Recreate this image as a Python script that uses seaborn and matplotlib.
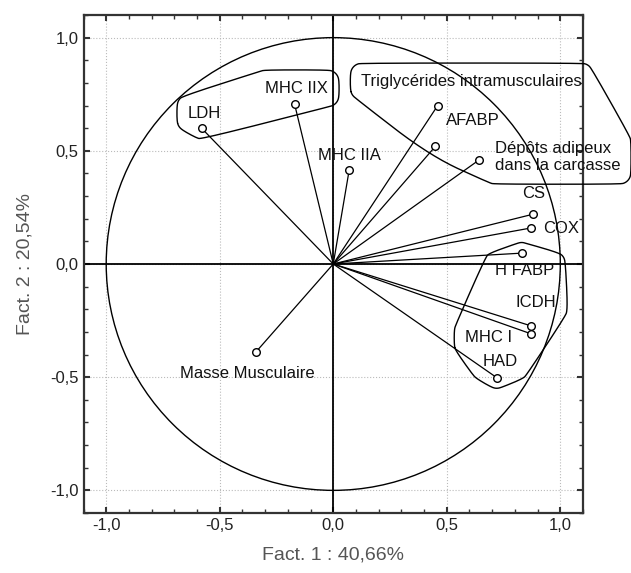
import numpy as np
import pandas as pd
import matplotlib
matplotlib.use("Agg")
import matplotlib.pyplot as plt
import seaborn as sns
from matplotlib.patches import Circle
from matplotlib.ticker import FixedLocator, MultipleLocator

# ---------------- data ----------------
variables = ["LDH", "MHC IIX", "MHC IIA", "Triglycérides intramusculaires", "AFABP",
             "Dépôts adipeux\ndans la carcasse", "CS", "COX", "H FABP", "ICDH",
             "MHC I", "HAD", "Masse Musculaire"]
fact1 = [-0.58, -0.17, 0.07, 0.46, 0.45, 0.64, 0.88, 0.87, 0.83, 0.87, 0.87, 0.72, -0.34]
fact2 = [0.60, 0.705, 0.414, 0.70, 0.52, 0.458, 0.22, 0.159, 0.048, -0.273, -0.308, -0.502, -0.388]

groups = [
    ["LDH", "MHC IIX"],
    ["Triglycérides intramusculaires", "AFABP", "Dépôts adipeux\ndans la carcasse"],
    ["H FABP", "ICDH", "MHC I", "HAD"],
]

tick_values = [-1.0, -0.5, 0.0, 0.5, 1.0]
tick_labels = ["-1,0", "-0,5", "0,0", "0,5", "1,0"]
x_title = "Fact. 1 : 40,66%"
y_title = "Fact. 2 : 20,54%"

# label placement (pixel offsets from point, horizontal alignment)
label_style = {
    "LDH": (3, 15, "center"),
    "MHC IIX": (2, 16, "center"),
    "MHC IIA": (0, 15, "center"),
    "Triglycérides intramusculaires": (34, 24, "center"),
    "AFABP": (37, 26, "center"),
    "Dépôts adipeux\ndans la carcasse": (16, 3, "left"),
    "CS": (1, 21, "center"),
    "COX": (12, 0, "left"),
    "H FABP": (3, -17, "center"),
    "ICDH": (5, 23, "center"),
    "MHC I": (-42, -4, "center"),
    "HAD": (3, 16, "center"),
    "Masse Musculaire": (-9, -22, "center"),
}

df = pd.DataFrame({"var": variables, "f1": fact1, "f2": fact2})

# ---------------- figure ----------------
sns.set_style("ticks")
plt.rcParams["font.family"] = ["Liberation Sans", "DejaVu Sans"]

W, H = 631, 573
fig = plt.figure(figsize=(W / 100, H / 100), dpi=100)
ax = fig.add_axes([83.5 / W, 1 - 513 / H, (583 - 83.5) / W, (513 - 15) / H])

ax.set_xlim(-1.1, 1.1)
ax.set_ylim(-1.1, 1.1)

ax.grid(True, which="major", ls=":", color="#bbbbbb", lw=0.8)
ax.axhline(0, color="black", lw=1.3, zorder=2)
ax.axvline(0, color="black", lw=1.3, zorder=2)
ax.add_patch(Circle((0, 0), 1.0, fill=False, ec="black", lw=1.0, zorder=2))

for _, r in df.iterrows():
    ax.plot([0, r.f1], [0, r.f2], color="black", lw=0.9, zorder=2)

sns.scatterplot(data=df, x="f1", y="f2", ax=ax, marker="o", s=30,
                facecolor="white", edgecolor="black", linewidth=1.0, zorder=4,
                legend=False)

texts = {}
for _, r in df.iterrows():
    dx, dy, ha = label_style[r["var"]]
    t = ax.annotate(r["var"], (r.f1, r.f2), xytext=(dx, dy), textcoords="offset pixels",
                    ha=ha, va="center", fontsize=12, color="#111111", zorder=5,
                    linespacing=1.15)
    texts[r["var"]] = t

ax.xaxis.set_major_locator(FixedLocator(tick_values))
ax.yaxis.set_major_locator(FixedLocator(tick_values))
ax.set_xticklabels(tick_labels)
ax.set_yticklabels(tick_labels)
ax.xaxis.set_minor_locator(MultipleLocator(0.1))
ax.yaxis.set_minor_locator(MultipleLocator(0.1))
ax.tick_params(which="both", direction="in", top=True, right=True, colors="#333333",
               labelsize=12, labelcolor="#222222")
ax.tick_params(which="major", length=4, width=1.5)
ax.tick_params(which="minor", length=3, width=1.0)
for s in ax.spines.values():
    s.set_linewidth(1.6)
    s.set_color("#333333")

ax.set_xlabel(x_title, fontsize=14, color="#555555", labelpad=10)
ax.set_ylabel(y_title, fontsize=14, color="#555555", labelpad=12)

# ---------------- group contours (smoothed hulls around points + labels) ----------------
fig.canvas.draw()
renderer = fig.canvas.get_renderer()


def convex_hull(pts):
    pts = sorted(set(map(tuple, pts)))
    if len(pts) <= 2:
        return pts

    def cross(o, a, b):
        return (a[0] - o[0]) * (b[1] - o[1]) - (a[1] - o[1]) * (b[0] - o[0])
    lower, upper = [], []
    for p in pts:
        while len(lower) >= 2 and cross(lower[-2], lower[-1], p) <= 0:
            lower.pop()
        lower.append(p)
    for p in reversed(pts):
        while len(upper) >= 2 and cross(upper[-2], upper[-1], p) <= 0:
            upper.pop()
        upper.append(p)
    return lower[:-1] + upper[:-1]


def chaikin(poly, n=4):
    p = np.asarray(poly, float)
    for _ in range(n):
        q = np.roll(p, -1, axis=0)
        a = 0.75 * p + 0.25 * q
        b = 0.25 * p + 0.75 * q
        inter = np.empty((2 * len(p), 2))
        inter[0::2] = a
        inter[1::2] = b
        p = inter
    return p


pad = 11
ang = np.linspace(0, 2 * np.pi, 12, endpoint=False)
for g in groups:
    base = []
    for name in g:
        row = df[df["var"] == name].iloc[0]
        base.append(ax.transData.transform((row.f1, row.f2)))
        bb = texts[name].get_window_extent(renderer)
        base += [(bb.x0, bb.y0), (bb.x1, bb.y0), (bb.x0, bb.y1), (bb.x1, bb.y1)]
    cloud = []
    for (px, py) in base:
        for a in ang:
            cloud.append((round(px + pad * np.cos(a), 3), round(py + pad * np.sin(a), 3)))
    hull = chaikin(convex_hull(cloud), 4)
    hull = np.vstack([hull, hull[:1]])
    hull_data = ax.transData.inverted().transform(hull)
    ax.plot(hull_data[:, 0], hull_data[:, 1], color="black", lw=1.0, clip_on=False, zorder=3)

fig.savefig("out.png", dpi=100)
